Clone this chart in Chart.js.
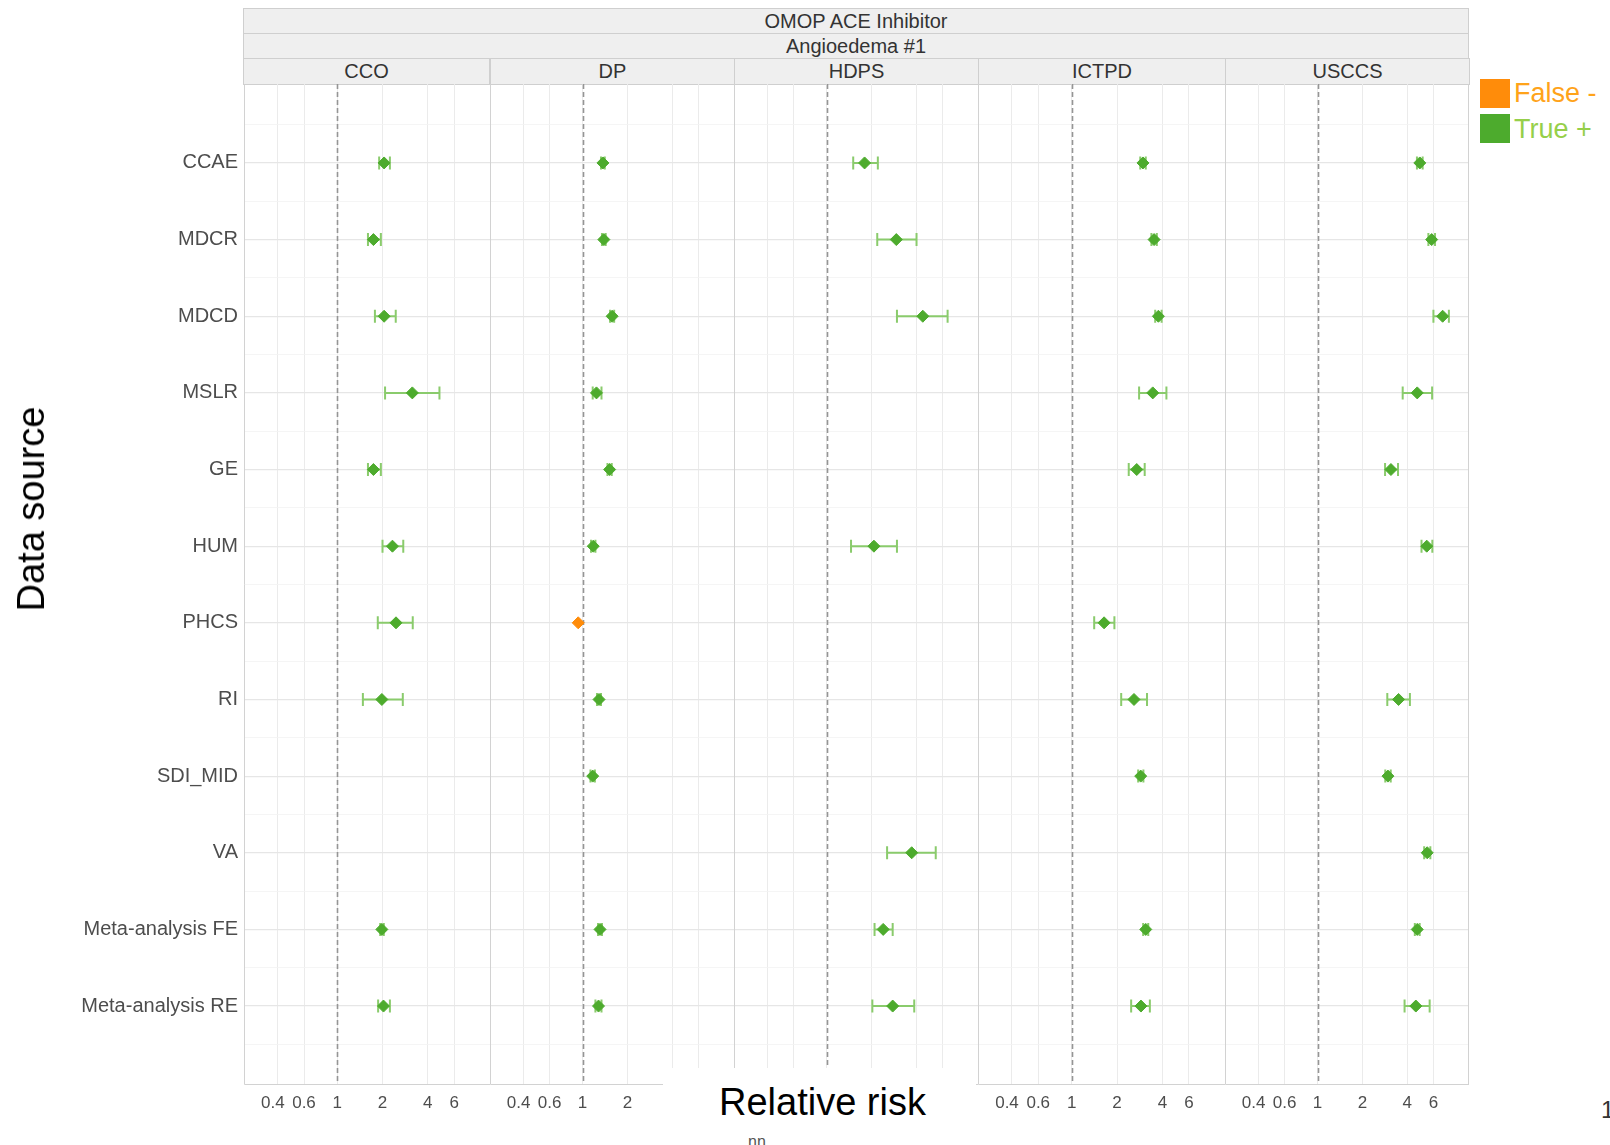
<!DOCTYPE html>
<html>
<head>
<meta charset="utf-8">
<script src="https://cdn.jsdelivr.net/npm/chart.js@4.4.1/dist/chart.umd.min.js"></script>
<style>
  body { margin: 0; width: 1610px; height: 1145px; overflow: hidden; background: #fff; position: relative; font-family: "Liberation Sans", Arial, sans-serif; }
  canvas { position: absolute; top: 84px; }
  .strip { position: absolute; box-sizing: border-box; background: #efefef; border: 1px solid #cfcfcf; color: #333; font-size: 20px; line-height: 24px; text-align: center; white-space: nowrap; }
  .txt { position: absolute; white-space: nowrap; }
  .key { position: absolute; width: 30px; height: 29px; }
</style>
</head>
<body>
<div class="strip" style="left:243px;top:8px;width:1226px;height:26px;">OMOP ACE Inhibitor</div>
<div class="strip" style="left:243px;top:33px;width:1226px;height:26px;">Angioedema #1</div>
<div id="methodStrips"></div>

<canvas id="c0"></canvas>
<canvas id="c1"></canvas>
<canvas id="c2"></canvas>
<canvas id="c3"></canvas>
<canvas id="c4"></canvas>

<div style="position:absolute;left:663px;top:1068px;width:313px;height:77px;background:#fff;z-index:5;"></div>
<div class="txt" style="left:719px;top:1080px;font-size:38px;line-height:44px;color:#000;z-index:6;">Relative risk</div>
<div class="txt" style="left:748px;top:1133px;font-size:16px;color:#555;z-index:6;">nn</div>
<div class="txt" style="left:1601px;top:1096px;font-size:24px;color:#333;">1</div>
<div class="txt" style="left:31px;top:509px;font-size:38px;line-height:44px;color:#000;transform:translate(-50%,-50%) rotate(-90deg);">Data source</div>

<div class="key" style="left:1480px;top:79px;background:#ff8c0a;"></div>
<div class="key" style="left:1480px;top:114px;background:#4dab2d;"></div>
<div class="txt" style="left:1514px;top:78px;font-size:27px;line-height:30px;color:#ffa31a;">False -</div>
<div class="txt" style="left:1514px;top:114px;font-size:27px;line-height:30px;color:#96cf4a;">True +</div>

<script>
const sources = ['CCAE', 'MDCR', 'MDCD', 'MSLR', 'GE', 'HUM', 'PHCS', 'RI', 'SDI_MID', 'VA', 'Meta-analysis FE', 'Meta-analysis RE'];
const methods = ['CCO', 'DP', 'HDPS', 'ICTPD', 'USCCS'];
const xTicks = [0.4, 0.6, 1, 2, 4, 6];

// relative risk estimates and 95% CI per method (null = no estimate)
const ccoRR   = [2.05, 1.74, 2.05, 3.16, 1.74, 2.33, 2.46, 1.98, null, null, 1.98, 2.03];
const ccoLo   = [1.90, 1.60, 1.78, 2.08, 1.60, 2.00, 1.86, 1.48, null, null, 1.93, 1.87];
const ccoHi   = [2.24, 1.95, 2.45, 4.79, 1.95, 2.75, 3.18, 2.73, null, null, 2.04, 2.24];
const dpRR    = [1.37, 1.39, 1.58, 1.24, 1.52, 1.18, 0.935, 1.29, 1.17, null, 1.31, 1.28];
const dpLo    = [1.33, 1.35, 1.53, 1.17, 1.47, 1.14, null, 1.25, 1.13, null, 1.27, 1.22];
const dpHi    = [1.41, 1.43, 1.63, 1.34, 1.57, 1.22, null, 1.33, 1.21, null, 1.35, 1.34];
const hdpsRR  = [1.80, 2.94, 4.43, null, null, 2.08, null, null, null, 3.73, 2.40, 2.78];
const hdpsLo  = [1.51, 2.19, 2.97, null, null, 1.46, null, null, null, 2.55, 2.10, 2.03];
const hdpsHi  = [2.21, 4.02, 6.50, null, null, 2.97, null, null, null, 5.41, 2.78, 3.88];
const ictpdRR = [2.97, 3.52, 3.76, 3.45, 2.70, null, 1.64, 2.59, 2.87, null, 3.10, 2.88];
const ictpdLo = [2.85, 3.38, 3.58, 2.80, 2.39, null, 1.41, 2.13, 2.76, null, 2.98, 2.48];
const ictpdHi = [3.10, 3.67, 3.95, 4.25, 3.05, null, 1.92, 3.16, 2.99, null, 3.22, 3.30];
const usccsRR = [4.86, 5.84, 6.92, 4.67, 3.11, 5.41, null, 3.50, 2.97, 5.45, 4.67, 4.57];
const usccsLo = [4.65, 5.55, 6.00, 3.73, 2.84, 4.99, null, 2.94, 2.85, 5.20, 4.50, 3.84];
const usccsHi = [5.08, 6.15, 7.62, 5.88, 3.47, 5.90, null, 4.17, 3.10, 5.72, 4.85, 5.66];
// estimates classified "False -" (method, source)
const falseNeg = [['DP', 'PHCS']];

const est = [ccoRR, dpRR, hdpsRR, ictpdRR, usccsRR];
const low = [ccoLo, dpLo, hdpsLo, ictpdLo, usccsLo];
const high = [ccoHi, dpHi, hdpsHi, ictpdHi, usccsHi];

const GREEN = '#4dab2d', ORANGE = '#ff8c0a', BAR = '#8acb6c';
const panelL = [244, 490, 734, 978, 1225], panelR = [490, 734, 978, 1225, 1469];
const TOP = 84, H = 1145 - 84, XAXIS_H = 60, YAXIS_W = 244, YPAD = 1.03;

// method strips
const ms = document.getElementById('methodStrips');
methods.forEach((m, i) => {
  const d = document.createElement('div');
  d.className = 'strip';
  d.style.cssText = `left:${panelL[i] - (i ? 0 : 1)}px;top:58px;width:${panelR[i] - panelL[i] + 1}px;height:27px;`;
  d.textContent = m;
  ms.appendChild(d);
});

const errorBars = {
  id: 'errorBars',
  beforeDatasetsDraw(chart) {
    const p = chart.options.plugins.errorBars;
    const {ctx, chartArea: a, scales: {x, y}} = chart;
    ctx.save();
    ctx.beginPath(); ctx.rect(a.left, a.top, a.width, a.height); ctx.clip();
    // reference line at RR = 1
    const x1 = Math.round(x.getPixelForValue(1)) + 0.5;
    ctx.strokeStyle = '#959595'; ctx.lineWidth = 1.6; ctx.setLineDash([5, 3]);
    ctx.beginPath(); ctx.moveTo(x1, a.top); ctx.lineTo(x1, a.bottom); ctx.stroke();
    ctx.setLineDash([]);
    ctx.strokeStyle = BAR; ctx.lineWidth = 2;
    p.lo.forEach((lo, i) => {
      const hi = p.hi[i];
      if (lo == null || hi == null) return;
      const yy = y.getPixelForValue(i), xa = x.getPixelForValue(lo), xb = x.getPixelForValue(hi);
      ctx.beginPath();
      ctx.moveTo(xa, yy); ctx.lineTo(xb, yy);
      ctx.moveTo(xa, yy - 6.5); ctx.lineTo(xa, yy + 6.5);
      ctx.moveTo(xb, yy - 6.5); ctx.lineTo(xb, yy + 6.5);
      ctx.stroke();
    });
    ctx.restore();
  },
  afterDraw(chart) {
    const {ctx, chartArea: a} = chart;
    const last = chart.options.plugins.errorBars.last;
    const l = a.left + 0.5, r = a.right - 0.5, t = a.top + 0.5, b = a.bottom - 0.5;
    ctx.save();
    ctx.strokeStyle = '#d2d2d2'; ctx.lineWidth = 1;
    ctx.beginPath();
    ctx.moveTo(l, t); ctx.lineTo(l, b); ctx.lineTo(a.right, b);
    if (last) { ctx.moveTo(r, t); ctx.lineTo(r, b); }
    ctx.stroke();
    ctx.restore();
  }
};

methods.forEach((m, i) => {
  const first = i === 0;
  const canvas = document.getElementById('c' + i);
  const left = first ? 0 : panelL[i];
  const width = panelR[i] - left;
  canvas.style.left = left + 'px';
  canvas.width = width; canvas.height = H;
  const pts = [], colors = [];
  est[i].forEach((v, k) => {
    if (v == null) return;
    pts.push({x: v, y: k});
    const neg = falseNeg.some(f => f[0] === m && f[1] === sources[k]);
    colors.push(neg ? ORANGE : GREEN);
  });
  new Chart(canvas, {
    type: 'scatter',
    data: { datasets: [{ data: pts, pointStyle: 'rectRot', pointRadius: 6, pointBackgroundColor: colors, pointBorderColor: colors, pointBorderWidth: 1 }] },
    options: {
      responsive: false, animation: false, events: [],
      layout: { padding: 0, autoPadding: false },
      plugins: { legend: { display: false }, tooltip: { enabled: false }, errorBars: { lo: low[i], hi: high[i], last: i === methods.length - 1 } },
      scales: {
        x: {
          type: 'logarithmic', min: 0.239, max: 10.4,
          afterBuildTicks: ax => { ax.ticks = xTicks.map(v => ({value: v})); },
          afterFit: ax => { ax.height = XAXIS_H; ax.paddingLeft = 0; ax.paddingRight = 0; },
          grid: { color: '#ebebeb', lineWidth: 1, drawTicks: false },
          border: { display: false },
          // the 0.4 label sits a little left of its break, as in the source
          ticks: { autoSkip: false, maxRotation: 0, padding: 8, color: '#4d4d4d', font: { family: 'Liberation Sans', size: 17 },
                   callback: v => v === 0.4 ? '0.4\u00a0\u00a0' : String(v) }
        },
        y: {
          type: 'linear', reverse: true, min: -YPAD, max: sources.length - 1 + YPAD,
          afterBuildTicks: ax => { const t = []; for (let v = -0.5; v <= sources.length - 0.5; v += 0.5) t.push({value: v}); ax.ticks = t; },
          afterFit: ax => { ax.width = first ? YAXIS_W : 0; ax.paddingTop = 0; ax.paddingBottom = 0; },
          grid: {
            drawTicks: false,
            color: c => Number.isInteger(c.tick.value) ? '#e6e6e6' : '#f3f3f3',
            lineWidth: c => Number.isInteger(c.tick.value) ? 1.2 : 0.8
          },
          border: { display: false },
          ticks: {
            display: first, autoSkip: false, padding: 6, color: '#4d4d4d', font: { family: 'Liberation Sans', size: 20 },
            callback: v => (Number.isInteger(v) && v >= 0 && v < sources.length) ? sources[v] : ''
          }
        }
      }
    },
    plugins: [errorBars]
  });
});
</script>
</body>
</html>
